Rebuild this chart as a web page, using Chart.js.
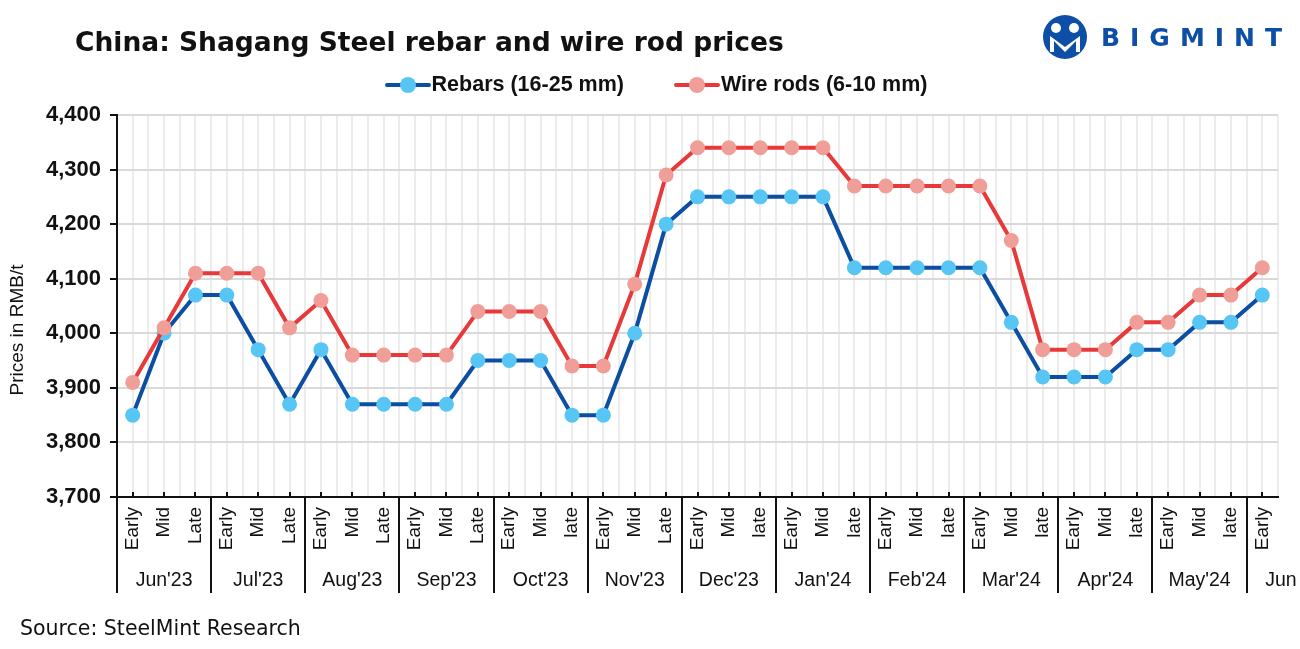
<!DOCTYPE html>
<html>
<head>
<meta charset="utf-8">
<script src="https://cdn.jsdelivr.net/npm/chart.js@4.4.1/dist/chart.umd.min.js"></script>
<style>
  html, body { margin: 0; padding: 0; background: #fff; }
  #wrap { position: relative; width: 1300px; height: 649px; overflow: hidden; }
  #c { position: absolute; left: 0; top: 0; }
  #title { position: absolute; left: 75px; top: 26px; font-family: "DejaVu Sans", sans-serif; font-weight: bold; font-size: 26.5px; color: #111; white-space: nowrap; }
  #legend { position: absolute; left: 0; width: 1300px; top: 72px; text-align: center; font-family: "Liberation Sans", Arial, sans-serif; font-weight: bold; font-size: 21.5px; color: #111; white-space: nowrap; padding-left: 6px; }
  .item { display: inline-flex; align-items: center; margin: 0 22px; }
  .mk { position: relative; width: 46px; height: 16px; margin-right: 1px; }
  .mk .ln { position: absolute; left: 0; right: 0; top: 6px; height: 4px; border-radius: 2px; }
  .mk .pt { position: absolute; left: 15px; top: 0; width: 16px; height: 16px; border-radius: 50%; }
  #source { position: absolute; left: 20px; top: 616px; font-family: "DejaVu Sans", sans-serif; font-size: 20.5px; color: #111; white-space: nowrap; }
  #logo { position: absolute; left: 1042px; top: 14px; display: flex; align-items: center; }
  #logo span { font-family: "DejaVu Sans", sans-serif; font-weight: bold; font-size: 25px; color: #0d4ea6; letter-spacing: 10px; margin-left: 13px; }
</style>
</head>
<body>
<div id="wrap">
  <canvas id="c" width="1300" height="649"></canvas>
  <div id="title">China: Shagang Steel rebar and wire rod prices</div>
  <div id="logo">
    <svg width="46" height="46" viewBox="0 0 46 46">
      <circle cx="23" cy="23" r="22" fill="#0d4ea6"/>
      <circle cx="14" cy="14" r="5" fill="#fff"/>
      <circle cx="32" cy="14" r="5" fill="#fff"/>
      <path d="M8 22 L8 38 L12 38 L12 27 L23 38 L34 27 L34 38 L38 38 L38 22 L23 33 Z" fill="#fff"/>
    </svg>
    <span>BIGMINT</span>
  </div>
  <div id="legend">
    <span class="item"><span class="mk"><span class="ln" style="background:#0b4ea2"></span><span class="pt" style="background:#57c6f4"></span></span>Rebars (16-25 mm)</span>
    <span class="item"><span class="mk"><span class="ln" style="background:#e8393a"></span><span class="pt" style="background:#f09f98"></span></span>Wire rods (6-10 mm)</span>
  </div>
  <div id="source">Source: SteelMint Research</div>
</div>
<script>
const periods = ["Early","Mid","Late","Early","Mid","Late","Early","Mid","Late","Early","Mid","Late","Early","Mid","late","Early","Mid","Late","Early","Mid","late","Early","Mid","late","Early","Mid","late","Early","Mid","late","Early","Mid","late","Early","Mid","late","Early"];
const months = ["Jun'23","Jul'23","Aug'23","Sep'23","Oct'23","Nov'23","Dec'23","Jan'24","Feb'24","Mar'24","Apr'24","May'24","Jun'24"];
const rebars = [3850,4000,4070,4070,3970,3870,3970,3870,3870,3870,3870,3950,3950,3950,3850,3850,4000,4200,4250,4250,4250,4250,4250,4120,4120,4120,4120,4120,4020,3920,3920,3920,3970,3970,4020,4020,4070];
const wireRods = [3910,4010,4110,4110,4110,4010,4060,3960,3960,3960,3960,4040,4040,4040,3940,3940,4090,4290,4340,4340,4340,4340,4340,4270,4270,4270,4270,4270,4170,3970,3970,3970,4020,4020,4070,4070,4120];
const yTicks = [3700,3800,3900,4000,4100,4200,4300,4400];
const yTitle = 'Prices in RMB/t';

const groupPlugin = {
  id: 'groups',
  afterDraw(chart) {
    const ctx = chart.ctx;
    const xs = chart.scales.x;
    const area = chart.chartArea;
    const half = (xs.getPixelForValue(1) - xs.getPixelForValue(0)) / 2;
    ctx.save();
    ctx.strokeStyle = '#111';
    ctx.lineWidth = 2;
    for (let i = 0; i < periods.length; i++) {
      const x = Math.round(xs.getPixelForValue(i));
      ctx.beginPath();
      ctx.moveTo(x, area.bottom);
      ctx.lineTo(x, area.bottom - 5);
      ctx.stroke();
    }
    for (let k = 0; k * 3 < periods.length; k++) {
      const x = Math.round(xs.getPixelForValue(k * 3) - half);
      ctx.beginPath();
      ctx.moveTo(x, area.bottom);
      ctx.lineTo(x, area.bottom + 96);
      ctx.stroke();
    }
    ctx.fillStyle = '#111';
    ctx.font = '19.5px "Liberation Sans", Arial, sans-serif';
    ctx.textAlign = 'center';
    ctx.textBaseline = 'middle';
    ctx.beginPath();
    ctx.rect(0, 0, 1297, chart.height);
    ctx.clip();
    for (let k = 0; k < months.length; k++) {
      const x = xs.getPixelForValue(k * 3) + 2 * half;
      ctx.fillText(months[k], x, area.bottom + 84);
    }
    ctx.restore();
    ctx.save();
    ctx.translate(18, 330);
    ctx.rotate(-Math.PI / 2);
    ctx.fillStyle = '#111';
    ctx.font = '19px "Liberation Sans", Arial, sans-serif';
    ctx.textAlign = 'center';
    ctx.textBaseline = 'middle';
    ctx.fillText(yTitle, 0, 0);
    ctx.restore();
  }
};

new Chart(document.getElementById('c'), {
  type: 'line',
  data: {
    labels: periods,
    datasets: [
      {
        label: 'Rebars (16-25 mm)',
        data: rebars,
        borderColor: '#0b4ea2',
        backgroundColor: '#57c6f4',
        pointBackgroundColor: '#57c6f4',
        pointBorderWidth: 0,
        pointRadius: 7.5,
        borderWidth: 4,
        tension: 0,
        order: 1
      },
      {
        label: 'Wire rods (6-10 mm)',
        data: wireRods,
        borderColor: '#e8393a',
        backgroundColor: '#f09f98',
        pointBackgroundColor: '#f09f98',
        pointBorderWidth: 0,
        pointRadius: 7.5,
        borderWidth: 4,
        tension: 0,
        order: 0
      }
    ]
  },
  options: {
    responsive: false,
    animation: false,
    layout: { padding: { top: 115, right: 22, bottom: 52, left: 0 } },
    plugins: { legend: { display: false }, tooltip: { enabled: false } },
    scales: {
      x: {
        type: 'category',
        offset: true,
        afterFit(scale) { scale.height = 100; },
        grid: { offset: false, color: '#ececec', lineWidth: 2, drawTicks: false },
        border: { display: true, color: '#111', width: 2 },
        ticks: {
          autoSkip: false, minRotation: 90, maxRotation: 90, padding: 10,
          color: '#111', font: { family: '"Liberation Sans", Arial, sans-serif', size: 19 }
        }
      },
      x2: {
        type: 'category',
        labels: periods,
        position: 'bottom',
        offset: true,
        display: true,
        afterFit(scale) { scale.height = 0; },
        grid: { offset: true, color: '#ececec', lineWidth: 2, drawTicks: false },
        border: { display: false },
        ticks: { display: false }
      },
      y: {
        min: 3700, max: 4400,
        afterFit(scale) { scale.width = 117; },
        afterBuildTicks(scale) { scale.ticks = yTicks.map(v => ({ value: v })); },
        grid: { color: '#d9d9d9', lineWidth: 2, tickColor: '#111', tickLength: 7 },
        border: { display: true, color: '#111', width: 2 },
        ticks: {
          padding: 9, color: '#111',
          font: { family: '"Liberation Sans", Arial, sans-serif', size: 22, weight: 'bold' },
          callback: (v) => v.toLocaleString('en-US')
        }
      }
    }
  },
  plugins: [groupPlugin]
});
</script>
</body>
</html>
